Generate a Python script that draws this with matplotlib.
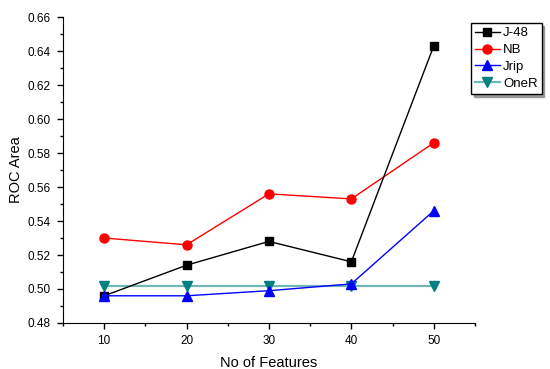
import matplotlib
matplotlib.use("Agg")
import matplotlib.pyplot as plt
from matplotlib.ticker import MultipleLocator

plt.rcParams['font.family'] = ['Liberation Sans', 'DejaVu Sans']

features = [10, 20, 30, 40, 50]
j48 = [0.496, 0.514, 0.528, 0.516, 0.643]
nb = [0.530, 0.526, 0.556, 0.553, 0.586]
jrip = [0.496, 0.496, 0.499, 0.503, 0.546]
oner = [0.502, 0.502, 0.502, 0.502, 0.502]

fig = plt.figure(figsize=(5.5, 3.69), dpi=100)
ax = fig.add_axes([0.1145, 0.1247, 0.749, 0.829])

ax.plot(features, j48, color='black', lw=1, marker='s', ms=5.5, label='J-48', zorder=4)
ax.plot(features, nb, color='red', lw=1, marker='o', ms=6.5, label='NB', zorder=3)
ax.plot(features, jrip, color='blue', lw=1, marker='^', ms=6.5, label='Jrip', zorder=5)
ax.plot(features, oner, color='#70b8b8', lw=1.6, marker='v', ms=6.5, mfc='#008080', mec='#008080', label='OneR', zorder=2)

ax.set_xlim(5, 55)
ax.set_ylim(0.48, 0.66)
ax.xaxis.set_major_locator(MultipleLocator(10))
ax.xaxis.set_minor_locator(MultipleLocator(5))
ax.yaxis.set_major_locator(MultipleLocator(0.02))
ax.yaxis.set_minor_locator(MultipleLocator(0.01))
ax.yaxis.set_major_formatter(matplotlib.ticker.FormatStrFormatter('%.2f'))

for s in ['top', 'right']:
    ax.spines[s].set_visible(False)
ax.tick_params(which='major', direction='out', length=4, width=1, labelsize=8.5, pad=5)
ax.tick_params(which='minor', direction='out', length=2.5, width=1)

ax.set_xlabel('No of Features', fontsize=10.5, labelpad=6)
ax.set_ylabel('ROC Area', fontsize=10.5, labelpad=3)

leg = ax.legend(loc='upper left', bbox_to_anchor=(0.99, 0.98), fontsize=9.5, frameon=True,
                fancybox=False, edgecolor='black', handlelength=1.9, handletextpad=0.25,
                borderpad=0.3, labelspacing=0.35, borderaxespad=0,
                shadow={'color': '0.6', 'alpha': 1})
leg.get_frame().set_linewidth(1)

fig.savefig('out.png', dpi=100)
